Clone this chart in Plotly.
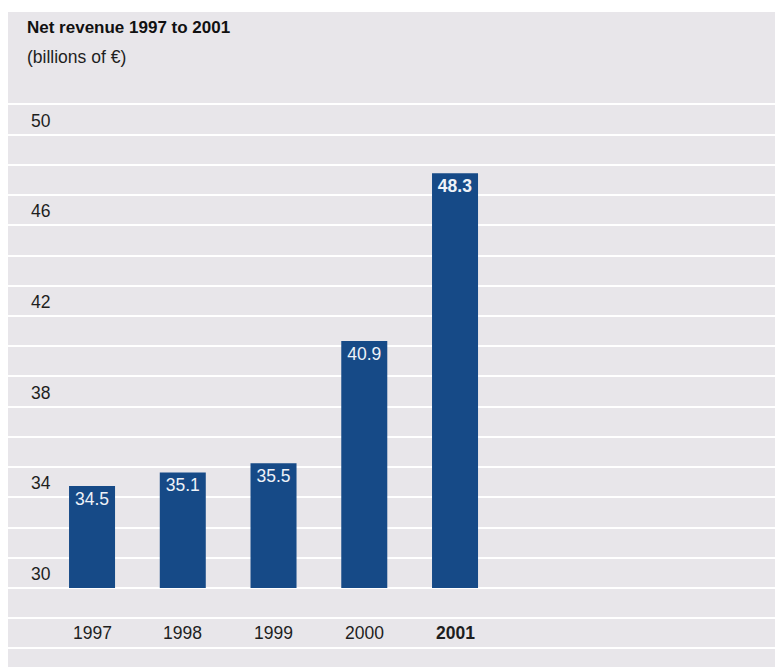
import plotly.graph_objects as go

# Net revenue by year (billions of EUR)
years = ["1997", "1998", "1999", "2000", "2001"]
revenue = [34.5, 35.1, 35.5, 40.9, 48.3]
axis_labels = [30, 34, 38, 42, 46, 50]
highlight_year = "2001"

BASE = 30
STEP = 4 / 3
W, H = 775, 667
ML, MT = 8, 12
FONT = "Liberation Sans, Arial, sans-serif"
BG = "#e8e6ea"
BAR = "#164a87"
INK = "#1e1e1e"
NUM_SIZE = 17.5

bar_text = [f"<b>{v:.1f}</b>" if y == highlight_year else f"{v:.1f}"
            for y, v in zip(years, revenue)]

fig = go.Figure()
fig.add_trace(go.Bar(
    x=years,
    y=[v - BASE for v in revenue],
    base=[BASE] * len(years),
    marker=dict(color=BAR, line=dict(width=0)),
    text=bar_text,
    textposition="inside",
    insidetextanchor="end",
    textangle=0,
    constraintext="none",
    textfont=dict(family=FONT, size=NUM_SIZE, color="#eef2f8"),
    hoverinfo="skip",
))

grid_vals = [BASE + k * STEP for k in range(-2, 17)]

annotations = []
for v in axis_labels:
    annotations.append(dict(
        xref="paper", x=(29 - ML) / (W - ML), xanchor="left",
        yref="y", y=v, yanchor="middle", yshift=14,
        text=str(v), showarrow=False,
        font=dict(family=FONT, size=NUM_SIZE, color=INK),
    ))
for i, y in enumerate(years):
    annotations.append(dict(
        xref="x", x=i, xanchor="center",
        yref="y", y=BASE - 2, yanchor="middle",
        text=f"<b>{y}</b>" if y == highlight_year else y,
        showarrow=False,
        font=dict(family=FONT, size=NUM_SIZE, color=INK),
    ))
annotations.append(dict(
    xref="paper", x=(25 - ML) / (W - ML), xanchor="left",
    yref="paper", y=(H - 57) / (H - MT), yanchor="middle",
    text="(billions of €)", showarrow=False,
    font=dict(family=FONT, size=17.5, color=INK),
))

fig.update_layout(
    width=W, height=H,
    margin=dict(l=ML, r=0, t=MT, b=0, pad=0),
    paper_bgcolor="white",
    plot_bgcolor=BG,
    showlegend=False,
    bargap=0.493,
    title=dict(
        text="<b>Net revenue 1997 to 2001</b>",
        xref="container", x=27 / W, xanchor="left",
        yref="container", y=1 - 27 / H, yanchor="middle",
        font=dict(family=FONT, size=17, color="#111111"),
    ),
    xaxis=dict(
        type="category", range=[-0.926, 7.526],
        showgrid=False, showticklabels=False, showline=False,
        zeroline=False, ticks="", fixedrange=True,
    ),
    yaxis=dict(
        range=[26.515, 55.41],
        tickmode="array", tickvals=grid_vals,
        showticklabels=False, ticks="",
        showgrid=True, gridcolor="white", gridwidth=2,
        zeroline=False, showline=False, fixedrange=True,
    ),
    annotations=annotations,
)

fig.write_html("out.html")
